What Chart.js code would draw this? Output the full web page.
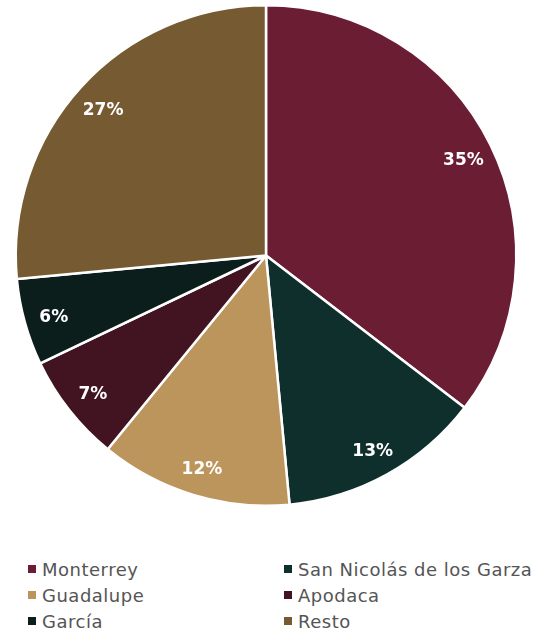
<!DOCTYPE html>
<html>
<head>
<meta charset="utf-8">
<script src="https://cdn.jsdelivr.net/npm/chart.js@4"></script>
<style>
  body { margin: 0; background: #fff; font-family: "DejaVu Sans", sans-serif; }
  #wrap { position: relative; width: 542px; height: 512px; }
  #legend {
    display: grid;
    grid-template-columns: 256px 256px;
    padding: 46px 0 0 28px;
    row-gap: 4px;
  }
  .item { display: flex; align-items: center; height: 22px; color: #555; font-size: 18px; letter-spacing: 0.5px; white-space: nowrap; }
  .box { width: 8px; height: 8px; margin-right: 6px; flex: none; }
</style>
</head>
<body>
<div id="wrap"><canvas id="c"></canvas></div>
<div id="legend"></div>
<script>
const categories = ['Monterrey', 'San Nicolás de los Garza', 'Guadalupe', 'Apodaca', 'García', 'Resto'];
const shares = [35.4, 13.1, 12.4, 7.0, 5.6, 26.5];
const colors = ['#6b1d34', '#0f2f2c', '#bc955c', '#421321', '#0b1e1c', '#765a31'];

// draws the percent labels near the outer edge of each slice
const sliceLabels = {
    id: 'sliceLabels',
    afterDatasetsDraw(chart) {
        const ctx = chart.ctx;
        const meta = chart.getDatasetMeta(0);
        const data = chart.data.datasets[0].data;
        ctx.save();
        ctx.fillStyle = '#fff';
        ctx.font = 'bold 17px "DejaVu Sans"';
        ctx.textAlign = 'center';
        ctx.textBaseline = 'middle';
        meta.data.forEach((arc, i) => {
            const mid = (arc.startAngle + arc.endAngle) / 2;
            const r = arc.outerRadius * 0.88;
            ctx.fillText(Math.round(data[i]) + '%', arc.x + Math.cos(mid) * r, arc.y + Math.sin(mid) * r + 3);
        });
        ctx.restore();
    }
};

const chart = new Chart(document.getElementById('c'), {
    type: 'pie',
    data: {
        labels: categories,
        datasets: [{
            data: shares,
            backgroundColor: colors,
            borderColor: '#fff',
            borderWidth: 2.5
        }]
    },
    options: {
        responsive: true,
        maintainAspectRatio: false,
        animation: false,
        layout: { padding: { top: 4, bottom: 5, left: 0, right: 10 } },
        plugins: { legend: { display: false }, tooltip: { enabled: false } }
    },
    plugins: [sliceLabels]
});

const legend = document.getElementById('legend');
categories.forEach((name, i) => {
    const item = document.createElement('div');
    item.className = 'item';
    item.innerHTML = `<span class="box" style="background:${colors[i]}"></span><span>${name}</span>`;
    legend.appendChild(item);
});
</script>
</body>
</html>
